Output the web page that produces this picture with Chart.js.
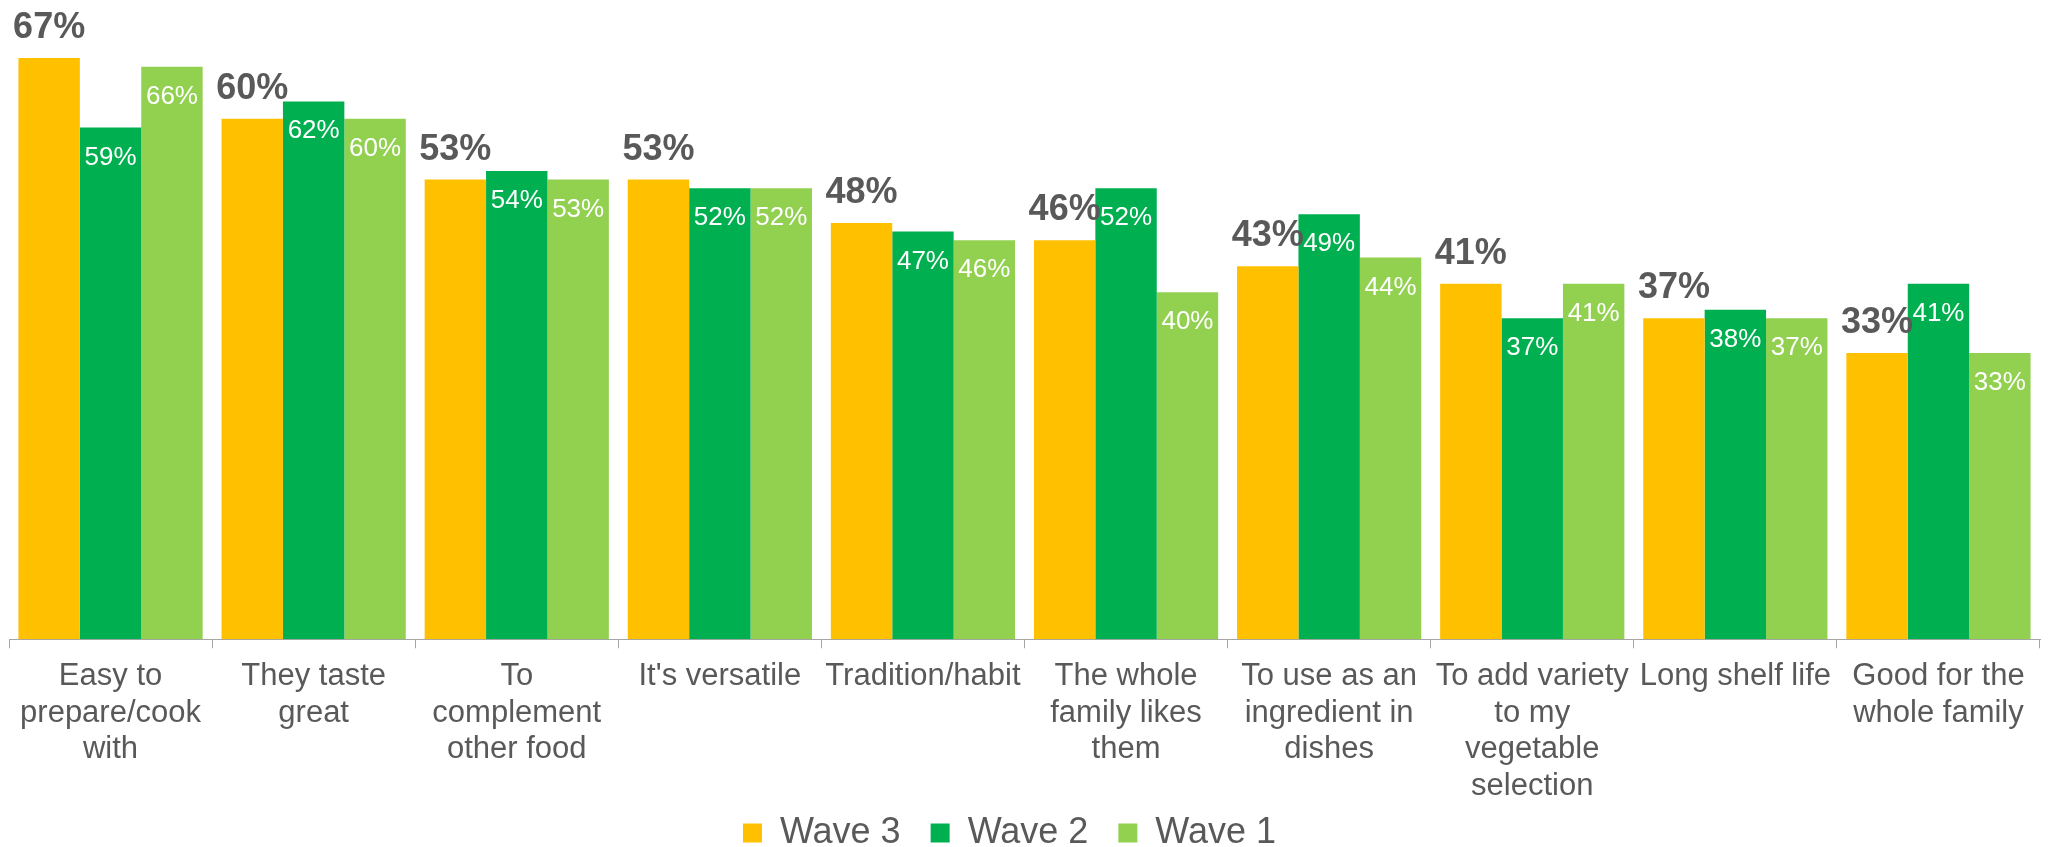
<!DOCTYPE html>
<html>
<head>
<meta charset="utf-8">
<title>Reasons for buying</title>
<script src="https://cdn.jsdelivr.net/npm/chart.js@4.4.0/dist/chart.umd.min.js"></script>
<style>
  html, body { margin: 0; padding: 0; background: #ffffff; }
  #wrap { width: 2049px; height: 847px; position: relative; }
</style>
</head>
<body>
<div id="wrap"><canvas id="reasonsChart"></canvas></div>
<script>
// categories (already split into the lines shown under the axis)
const categories = [
    ['Easy to', 'prepare/cook', 'with'],
    ['They taste', 'great'],
    ['To', 'complement', 'other food'],
    ["It's versatile"],
    ['Tradition/habit'],
    ['The whole', 'family likes', 'them'],
    ['To use as an', 'ingredient in', 'dishes'],
    ['To add variety', 'to my', 'vegetable', 'selection'],
    ['Long shelf life'],
    ['Good for the', 'whole family']
];
const seriesNames = ['Wave 3', 'Wave 2', 'Wave 1'];
const wave3 = [67, 60, 53, 53, 48, 46, 43, 41, 37, 33];
const wave2 = [59, 62, 54, 52, 47, 52, 49, 37, 38, 41];
const wave1 = [66, 60, 53, 52, 46, 40, 44, 41, 37, 33];

const FONT = '"Liberation Sans", Arial, sans-serif';
const GREY = '#595959';

Chart.defaults.font.family = FONT;
Chart.defaults.color = GREY;

// percentage labels: big grey ones above Wave 3, small white ones inside the others
const barLabels = {
    id: 'barLabels',
    afterDatasetsDraw(chart) {
        const ctx = chart.ctx;
        ctx.save();
        ctx.textAlign = 'center';
        ctx.textBaseline = 'alphabetic';
        chart.data.datasets.forEach(function (ds, i) {
            const meta = chart.getDatasetMeta(i);
            meta.data.forEach(function (bar, j) {
                const text = ds.data[j] + '%';
                if (i === 0) {
                    ctx.font = 'bold 36px ' + FONT;
                    ctx.fillStyle = GREY;
                    ctx.fillText(text, bar.x, bar.y - 20);
                } else {
                    ctx.font = '26px ' + FONT;
                    ctx.fillStyle = '#ffffff';
                    ctx.fillText(text, bar.x, bar.y + 37);
                }
            });
        });
        ctx.restore();
    }
};

const ctx = document.getElementById('reasonsChart').getContext('2d');
const chart = new Chart(ctx, {
    type: 'bar',
    data: {
        labels: categories,
        datasets: [
            { label: seriesNames[0], data: wave3, backgroundColor: '#FFC000', borderWidth: 0 },
            { label: seriesNames[1], data: wave2, backgroundColor: '#00B050', borderWidth: 0 },
            { label: seriesNames[2], data: wave1, backgroundColor: '#92D050', borderWidth: 0 }
        ]
    },
    options: {
        responsive: true,
        maintainAspectRatio: false,
        animation: false,
        layout: { padding: { left: 9, right: 9, top: 0, bottom: 0 } },
        datasets: {
            bar: { categoryPercentage: 0.907, barPercentage: 1 }
        },
        scales: {
            x: {
                grid: {
                    offset: true,
                    drawOnChartArea: false,
                    drawTicks: true,
                    tickLength: 9,
                    color: '#A6A6A6'
                },
                border: { display: true, color: '#A6A6A6', width: 1 },
                ticks: {
                    autoSkip: false,
                    maxRotation: 0,
                    minRotation: 0,
                    padding: 10.2,
                    color: GREY,
                    font: { size: 31, lineHeight: 1.18 }
                }
            },
            y: {
                display: false,
                min: 0,
                max: 73.7
            }
        },
        plugins: {
            tooltip: { enabled: false },
            legend: {
                position: 'bottom',
                maxHeight: 32,
                labels: {
                    boxWidth: 19,
                    boxHeight: 19,
                    padding: 0,
                    color: GREY,
                    font: { size: 36 },
                    generateLabels: function (c) {
                        const items = Chart.defaults.plugins.legend.labels.generateLabels(c);
                        items.forEach(function (it) {
                            it.text = it.text + '   ';
                            it.lineWidth = 0;
                        });
                        return items;
                    }
                }
            }
        }
    },
    plugins: [barLabels]
});
</script>
</body>
</html>
